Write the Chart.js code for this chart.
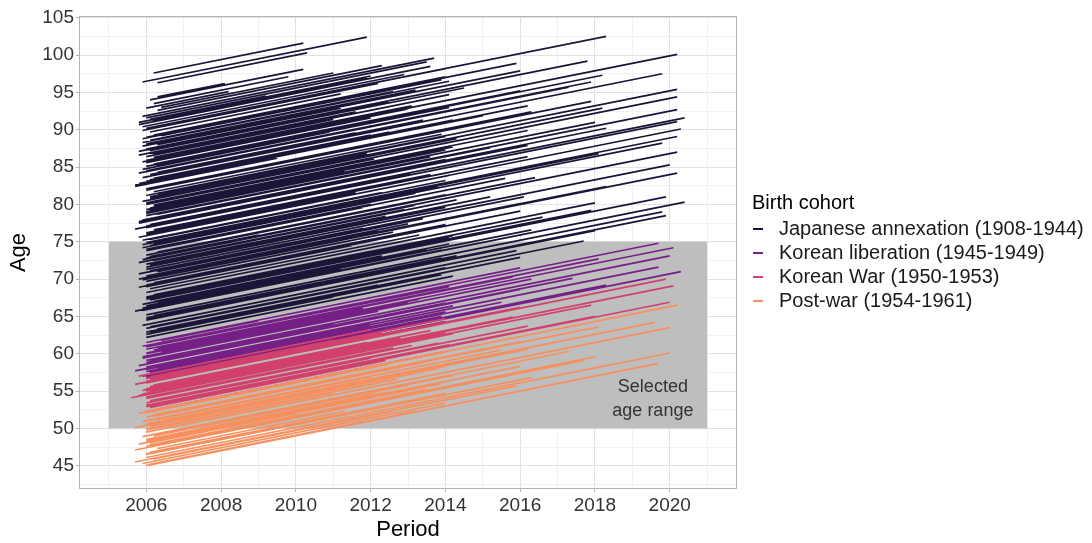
<!DOCTYPE html>
<html>
<head>
<meta charset="utf-8">
<script src="https://cdn.jsdelivr.net/npm/chart.js@4.4.1/dist/chart.umd.min.js"></script>
<style>
  html, body { margin: 0; padding: 0; background: #fff; }
  #wrap { width: 1092px; height: 543px; }
</style>
</head>
<body>
<div id="wrap"><canvas id="myChart"></canvas></div>
<script>
// one row per person: [start period, start age, end period, end age]
var cohorts = ['Japanese annexation (1908-1944)', 'Korean liberation (1945-1949)', 'Korean War (1950-1953)', 'Post-war (1954-1961)'];

var japanese = [
  [2006.2, 97.6, 2010.2, 101.6], [2005.9, 96.4, 2011.9, 102.4], [2006.3, 96.3, 2010.3, 100.3],
  [2006.1, 94.0, 2010.2, 98.1], [2006.3, 94.4, 2008.1, 96.2], [2006.2, 93.5, 2009.8, 97.1],
  [2006.0, 92.9, 2008.2, 95.1], [2006.4, 93.0, 2011.0, 97.6], [2005.9, 91.8, 2010.3, 96.2],
  [2006.3, 92.2, 2013.7, 99.6], [2005.8, 91.0, 2012.0, 97.2], [2005.8, 90.7, 2013.6, 98.5],
  [2006.0, 90.2, 2018.3, 102.5], [2006.2, 90.4, 2014.0, 98.2], [2005.9, 89.9, 2012.2, 96.2],
  [2006.5, 89.6, 2009.6, 92.7], [2006.0, 89.0, 2015.9, 98.9], [2006.1, 88.6, 2012.6, 95.1],
  [2005.9, 88.3, 2014.1, 96.5], [2006.3, 88.0, 2011.2, 92.9], [2006.0, 87.4, 2017.8, 99.2],
  [2005.8, 87.1, 2012.5, 93.8], [2006.2, 86.8, 2014.1, 94.7], [2006.0, 86.4, 2011.0, 91.4],
  [2006.1, 86.0, 2020.2, 100.1], [2005.9, 85.7, 2013.0, 92.8], [2006.2, 85.4, 2016.0, 95.2],
  [2006.0, 85.1, 2018.2, 97.3], [2006.3, 84.8, 2012.0, 90.5], [2006.0, 84.5, 2017.9, 96.4],
  [2005.8, 84.2, 2017.3, 95.7], [2006.2, 83.9, 2014.1, 91.8], [2005.9, 83.6, 2019.8, 97.5],
  [2006.1, 83.3, 2012.5, 89.7], [2005.7, 82.6, 2015.0, 91.9], [2006.0, 82.1, 2016.3, 92.4],
  [2005.7, 82.4, 2009.5, 86.2], [2006.1, 82.0, 2017.9, 93.8], [2006.2, 81.7, 2013.9, 89.4],
  [2006.0, 81.2, 2020.2, 95.4], [2006.3, 80.9, 2011.5, 86.1], [2006.1, 80.6, 2014.3, 88.8],
  [2006.0, 80.2, 2020.2, 94.4], [2006.2, 79.9, 2016.2, 89.9], [2006.1, 79.5, 2012.8, 86.2],
  [2006.0, 79.0, 2018.0, 91.0], [2006.3, 78.7, 2015.2, 87.6], [2006.0, 78.5, 2020.2, 92.7],
  [2006.1, 78.0, 2018.3, 90.2], [2005.8, 77.7, 2011.2, 83.1], [2006.1, 77.3, 2020.4, 91.6],
  [2006.0, 76.9, 2020.2, 91.1], [2005.7, 76.7, 2013.1, 84.1], [2006.2, 76.4, 2016.2, 86.4],
  [2006.0, 75.8, 2020.3, 90.1], [2006.3, 75.5, 2014.0, 83.2], [2005.9, 75.2, 2012.3, 81.6],
  [2006.0, 74.9, 2020.2, 89.1], [2006.1, 74.5, 2019.8, 88.2], [2005.9, 74.6, 2017.9, 86.6],
  [2006.2, 74.1, 2015.6, 83.5], [2006.0, 73.8, 2011.8, 79.6], [2006.3, 73.5, 2013.9, 81.1],
  [2006.0, 73.2, 2016.4, 83.6], [2006.0, 72.8, 2020.2, 87.0], [2006.2, 72.5, 2014.3, 80.6],
  [2005.8, 72.2, 2012.9, 79.3], [2006.1, 71.9, 2015.2, 81.0], [2006.0, 71.3, 2020.0, 85.3],
  [2006.3, 71.0, 2013.4, 78.1], [2005.8, 70.7, 2016.1, 81.0], [2006.1, 70.2, 2018.3, 82.4],
  [2005.9, 69.9, 2020.2, 84.2], [2006.2, 69.5, 2014.0, 77.3], [2006.0, 69.2, 2011.9, 75.1],
  [2005.8, 68.9, 2016.0, 79.1], [2006.4, 68.6, 2015.3, 77.5], [2006.0, 68.2, 2013.0, 75.2],
  [2006.2, 67.9, 2016.6, 78.3], [2006.0, 67.3, 2017.9, 79.2], [2006.1, 67.2, 2019.9, 81.0],
  [2006.3, 66.9, 2014.1, 74.7], [2005.9, 66.6, 2012.1, 72.8], [2006.0, 66.3, 2016.3, 76.6],
  [2006.0, 65.9, 2020.4, 80.3], [2005.7, 65.7, 2013.9, 73.9], [2006.0, 65.2, 2019.8, 79.0],
  [2006.2, 65.0, 2014.3, 73.1], [2006.0, 64.6, 2019.9, 78.5], [2006.0, 64.5, 2018.0, 76.5],
  [2006.3, 64.2, 2010.6, 68.5], [2005.9, 63.8, 2015.9, 73.8], [2006.0, 63.4, 2017.7, 75.1],
  [2006.2, 63.1, 2012.1, 69.0], [2006.1, 62.8, 2013.9, 70.6], [2006.3, 62.5, 2011.5, 67.7],
  [2006.0, 62.2, 2014.2, 70.4], [2006.1, 91.4, 2009.2, 94.5], [2006.4, 89.2, 2013.9, 96.7],
  [2005.9, 87.8, 2016.0, 97.9], [2006.2, 86.1, 2010.5, 90.4], [2006.0, 85.9, 2014.0, 93.9],
  [2006.3, 84.3, 2011.6, 89.6], [2006.0, 83.0, 2016.2, 93.2], [2006.4, 81.5, 2009.9, 85.0],
  [2006.1, 80.8, 2018.2, 92.9], [2006.0, 79.3, 2014.0, 87.3], [2006.2, 78.2, 2012.0, 84.0],
  [2005.8, 77.5, 2016.2, 87.9], [2006.0, 76.2, 2014.1, 84.3], [2006.3, 75.0, 2018.1, 86.8],
  [2005.9, 74.2, 2013.2, 81.5], [2006.1, 73.0, 2009.0, 75.9], [2006.0, 71.6, 2014.0, 79.6],
  [2006.4, 70.5, 2016.0, 80.1], [2006.0, 69.7, 2012.6, 76.3], [2006.2, 68.4, 2018.0, 80.2],
  [2006.0, 67.6, 2014.2, 75.8], [2005.9, 66.1, 2011.2, 71.4], [2006.2, 65.4, 2016.1, 75.3],
  [2006.1, 63.6, 2014.0, 71.5], [2006.0, 62.9, 2016.0, 72.9],
  [2006.3, 92.6, 2012.3, 98.6], [2006.0, 91.6, 2013.5, 99.1], [2006.2, 91.2, 2011.9, 96.9],
  [2005.9, 90.4, 2012.9, 97.4], [2006.1, 89.7, 2011.2, 94.8], [2006.2, 89.3, 2014.0, 97.1],
  [2005.9, 88.8, 2010.8, 93.7], [2006.0, 88.1, 2013.2, 95.3], [2006.3, 87.6, 2012.0, 93.3],
  [2006.1, 87.2, 2014.5, 95.6], [2005.8, 86.6, 2011.6, 92.4], [2006.2, 86.3, 2013.1, 93.2],
  [2006.0, 85.6, 2012.0, 91.6], [2006.3, 85.2, 2014.1, 93.0], [2005.9, 84.7, 2010.9, 89.7],
  [2006.1, 84.0, 2013.4, 91.3], [2006.2, 83.5, 2012.0, 89.3], [2006.0, 83.1, 2014.2, 91.3],
  [2005.8, 82.8, 2011.4, 88.4], [2006.2, 82.3, 2013.0, 89.1], [2006.0, 81.9, 2012.2, 88.1],
  [2006.3, 81.4, 2014.0, 89.1], [2006.1, 81.0, 2011.9, 86.8], [2005.9, 80.4, 2013.0, 87.5],
  [2006.0, 80.0, 2012.1, 86.1], [2006.2, 79.7, 2014.2, 87.7], [2006.1, 79.2, 2011.3, 84.4],
  [2006.0, 78.8, 2013.6, 86.4], [2006.3, 78.3, 2012.3, 84.3], [2005.9, 77.9, 2014.0, 86.0],
  [2006.0, 77.1, 2012.0, 83.1], [2006.2, 76.6, 2013.6, 84.0], [2006.0, 76.0, 2011.6, 81.6],
  [2005.8, 75.6, 2014.1, 83.9], [2006.1, 75.3, 2012.5, 81.7], [2006.2, 74.7, 2013.8, 82.3],
  [2006.0, 74.0, 2012.0, 80.0], [2006.3, 73.6, 2014.0, 81.3], [2006.1, 73.3, 2011.5, 78.7],
  [2005.9, 72.6, 2013.2, 79.9], [2006.0, 72.0, 2012.4, 78.4], [2006.2, 71.5, 2014.3, 79.6],
  [2006.1, 71.1, 2011.8, 76.8], [2006.0, 70.4, 2013.0, 77.4], [2005.8, 70.0, 2012.2, 76.4],
  [2006.2, 69.4, 2014.0, 77.2], [2006.0, 69.0, 2011.5, 74.5], [2006.1, 68.7, 2013.3, 75.9],
  [2006.3, 68.0, 2012.0, 73.7], [2006.0, 67.4, 2014.1, 75.5], [2006.2, 67.0, 2012.3, 73.1],
  [2006.0, 66.4, 2013.5, 73.9], [2005.9, 65.8, 2012.0, 71.9], [2006.2, 65.1, 2013.9, 72.8],
  [2006.0, 64.8, 2011.8, 70.6], [2006.1, 64.0, 2013.0, 70.9], [2006.3, 63.3, 2012.2, 69.2],
  [2006.0, 62.6, 2011.0, 67.6]
];

var liberation = [
  [2006.0, 61.5, 2016.0, 71.5], [2006.2, 61.3, 2019.7, 74.8], [2005.9, 61.0, 2012.5, 67.6],
  [2006.3, 60.8, 2015.8, 70.3], [2006.0, 60.6, 2018.1, 72.7], [2006.4, 60.3, 2013.0, 66.9],
  [2006.0, 60.1, 2020.1, 74.2], [2006.1, 59.8, 2014.0, 67.7], [2005.9, 59.6, 2016.3, 70.0],
  [2006.3, 59.3, 2011.0, 64.0], [2006.0, 59.1, 2020.0, 73.1], [2006.2, 58.9, 2017.4, 70.1],
  [2006.0, 58.6, 2013.6, 66.2], [2005.8, 58.4, 2016.0, 68.6], [2006.0, 58.2, 2014.2, 66.4],
  [2006.0, 57.9, 2019.7, 71.6], [2005.7, 57.7, 2012.0, 64.0], [2006.1, 57.5, 2015.5, 66.9],
  [2006.3, 57.2, 2018.3, 69.2], [2005.9, 57.0, 2013.9, 65.0], [2006.0, 56.7, 2020.3, 71.0],
  [2006.2, 56.5, 2014.0, 64.3], [2006.4, 61.8, 2009.0, 64.4], [2006.1, 59.0, 2010.4, 63.3],
  [2006.1, 61.2, 2012.0, 67.1], [2006.0, 60.9, 2014.1, 69.0], [2006.2, 60.5, 2011.8, 66.1],
  [2006.0, 60.0, 2013.3, 67.3], [2005.9, 59.4, 2012.2, 65.7], [2006.2, 59.0, 2014.0, 66.8],
  [2006.0, 58.8, 2011.6, 64.4], [2006.1, 58.3, 2013.0, 65.2], [2006.3, 58.0, 2012.0, 63.7],
  [2006.0, 57.6, 2014.0, 65.6], [2006.2, 57.3, 2011.4, 62.5], [2006.0, 56.9, 2012.6, 63.5]
];

var koreanWar = [
  [2005.8, 57.0, 2012.0, 63.2], [2006.0, 56.7, 2014.0, 64.7], [2006.2, 56.4, 2016.0, 66.2],
  [2006.0, 56.1, 2019.9, 70.0], [2005.7, 55.9, 2011.5, 61.7], [2006.1, 55.6, 2013.6, 63.1],
  [2006.3, 55.4, 2015.8, 64.9], [2005.9, 55.1, 2010.2, 59.4], [2006.0, 55.0, 2020.1, 69.1],
  [2006.2, 54.7, 2014.2, 62.7], [2005.8, 54.4, 2017.9, 66.5], [2006.0, 54.2, 2012.6, 60.8],
  [2006.4, 53.9, 2016.2, 63.7], [2006.1, 53.7, 2013.8, 61.4], [2006.0, 53.4, 2009.0, 56.4],
  [2006.2, 53.2, 2018.0, 65.0], [2006.0, 52.9, 2020.0, 66.9], [2006.3, 52.6, 2014.0, 60.3],
  [2005.6, 54.1, 2008.0, 56.5], [2006.1, 56.9, 2011.0, 61.8],
  [2006.1, 56.6, 2012.3, 62.8], [2006.0, 56.3, 2013.0, 63.3], [2006.2, 55.8, 2011.9, 61.5],
  [2006.0, 55.3, 2012.8, 62.1], [2006.1, 54.9, 2014.0, 62.8], [2005.9, 54.6, 2011.7, 60.4],
  [2006.0, 54.0, 2013.1, 61.1], [2006.2, 53.6, 2012.0, 59.4], [2006.0, 53.1, 2014.1, 61.2],
  [2006.1, 52.8, 2012.4, 59.1]
];

var postWar = [
  [2006.0, 52.3, 2020.2, 66.5], [2005.8, 52.0, 2014.0, 60.2], [2006.2, 51.8, 2016.0, 61.6],
  [2006.0, 51.5, 2018.1, 63.6], [2006.3, 51.2, 2012.0, 56.9], [2005.9, 50.9, 2015.5, 60.5],
  [2006.0, 50.6, 2019.6, 64.2], [2006.1, 50.3, 2013.8, 58.0], [2005.7, 50.1, 2016.2, 60.6],
  [2006.0, 49.8, 2011.0, 54.8], [2006.0, 49.5, 2020.0, 63.5], [2006.3, 49.2, 2014.2, 57.1],
  [2005.9, 48.9, 2017.3, 60.3], [2006.2, 48.6, 2012.4, 54.8], [2006.0, 48.3, 2016.0, 58.3],
  [2005.8, 47.9, 2013.9, 56.0], [2006.0, 47.6, 2018.0, 59.6], [2006.3, 47.3, 2011.3, 52.3],
  [2005.7, 47.1, 2017.7, 59.1], [2006.1, 46.8, 2014.0, 54.7], [2006.0, 46.5, 2016.3, 56.8],
  [2006.0, 46.1, 2020.0, 60.1], [2006.4, 45.8, 2012.2, 51.6], [2005.7, 45.5, 2015.9, 55.7],
  [2006.0, 45.0, 2019.7, 58.7], [2005.9, 45.3, 2014.0, 53.4], [2006.2, 46.3, 2018.3, 58.4],
  [2006.1, 48.1, 2010.0, 52.0],
  [2006.0, 52.1, 2012.5, 58.6], [2006.2, 51.6, 2013.4, 58.8], [2006.0, 51.0, 2012.0, 57.0],
  [2006.1, 50.4, 2014.0, 58.3], [2006.0, 49.9, 2012.7, 56.6], [2006.2, 49.0, 2013.0, 55.8],
  [2006.0, 48.5, 2012.1, 54.6], [2006.1, 47.8, 2013.5, 55.2], [2006.3, 47.0, 2012.3, 53.0],
  [2006.0, 46.6, 2013.0, 53.6], [2006.2, 45.9, 2012.6, 52.3], [2006.1, 45.2, 2013.2, 52.3]
];

var periodTicks = [2005, 2006, 2007, 2008, 2009, 2010, 2011, 2012, 2013, 2014, 2015, 2016, 2017, 2018, 2019, 2020, 2021];
var periodLabels = [2006, 2008, 2010, 2012, 2014, 2016, 2018, 2020];
var ageTicks = [42.5, 45, 47.5, 50, 52.5, 55, 57.5, 60, 62.5, 65, 67.5, 70, 72.5, 75, 77.5, 80, 82.5, 85, 87.5, 90, 92.5, 95, 97.5, 100, 102.5, 105];
var ageLabels = [45, 50, 55, 60, 65, 70, 75, 80, 85, 90, 95, 100, 105];

// selected age range box
var boxPeriod = [2005, 2021];
var boxAge = [50, 75];

var colors = ['#1d1538', '#761f86', '#d1416c', '#f7905f'];
var FONT = '"Liberation Sans", Arial, sans-serif';

function toPoints(segs) {
    var pts = [];
    segs.forEach(function (s) {
        pts.push({ x: s[0], y: s[1] }, { x: s[2], y: s[3] }, { x: s[2], y: null });
    });
    return pts;
}

var bgPlugin = {
    id: 'bg',
    beforeDatasetsDraw: function (chart) {
        var c = chart.ctx, xs = chart.scales.x, ys = chart.scales.y;
        var x0 = xs.getPixelForValue(boxPeriod[0]), x1 = xs.getPixelForValue(boxPeriod[1]);
        var y0 = ys.getPixelForValue(boxAge[1]), y1 = ys.getPixelForValue(boxAge[0]);
        c.save();
        c.fillStyle = '#bebebe';
        c.fillRect(x0, y0, x1 - x0, y1 - y0);
        c.restore();
    },
    afterDatasetsDraw: function (chart) {
        var c = chart.ctx, xs = chart.scales.x, ys = chart.scales.y, a = chart.chartArea;
        c.save();
        c.fillStyle = '#333';
        c.font = '18px ' + FONT;
        c.textAlign = 'center';
        c.textBaseline = 'middle';
        c.fillText('Selected', xs.getPixelForValue(2019.55), ys.getPixelForValue(55.6));
        c.fillText('age range', xs.getPixelForValue(2019.55), ys.getPixelForValue(52.3));
        // panel border
        c.strokeStyle = '#b3b3b3';
        c.lineWidth = 1;
        c.strokeRect(a.left + 0.5, a.top + 0.5, a.right - a.left - 1, a.bottom - a.top - 1);
        // legend
        c.textAlign = 'left';
        c.fillStyle = '#000';
        c.font = '20px ' + FONT;
        c.fillText('Birth cohort', 752, 203);
        for (var i = 0; i < cohorts.length; i++) {
            var y = 229 + i * 24;
            c.strokeStyle = colors[i];
            c.lineWidth = 2;
            c.beginPath();
            c.moveTo(753, y);
            c.lineTo(763, y);
            c.stroke();
            c.fillStyle = '#1a1a1a';
            c.fillText(cohorts[i], 779, y);
        }
        c.restore();
    }
};

var groups = [japanese, liberation, koreanWar, postWar];

var ctx = document.getElementById('myChart').getContext('2d');
var myChart = new Chart(ctx, {
    type: 'scatter',
    data: {
        datasets: groups.map(function (g, i) {
            return {
                label: cohorts[i],
                data: toPoints(g),
                showLine: true,
                spanGaps: false,
                borderColor: colors[i],
                backgroundColor: colors[i],
                borderWidth: 1.7,
                pointRadius: 0,
                pointHoverRadius: 0
            };
        }).reverse()
    },
    options: {
        responsive: true,
        maintainAspectRatio: false,
        animation: false,
        layout: { padding: { top: 16, right: 355, left: 0, bottom: 0 } },
        plugins: {
            legend: { display: false },
            tooltip: { enabled: false }
        },
        scales: {
            x: {
                type: 'linear',
                min: 2004.2,
                max: 2021.8,
                afterBuildTicks: function (s) { s.ticks = periodTicks.map(function (v) { return { value: v }; }); },
                afterFit: function (s) { s.height = 54; },
                border: { display: false },
                grid: {
                    color: function (c) { return periodLabels.indexOf(c.tick.value) >= 0 ? '#e2e2e2' : '#f1f1f1'; },
                    tickColor: function (c) { return periodLabels.indexOf(c.tick.value) >= 0 ? '#b3b3b3' : 'rgba(0,0,0,0)'; },
                    tickLength: 3
                },
                ticks: {
                    autoSkip: false,
                    maxRotation: 0,
                    padding: 2,
                    color: '#333',
                    font: { family: FONT, size: 19 },
                    callback: function (v) { return periodLabels.indexOf(v) >= 0 ? String(v) : ''; }
                },
                title: {
                    display: true,
                    text: 'Period',
                    color: '#000',
                    font: { family: FONT, size: 22 },
                    padding: { top: 0, bottom: 0 }
                }
            },
            y: {
                type: 'linear',
                min: 41.88,
                max: 105.24,
                afterBuildTicks: function (s) { s.ticks = ageTicks.map(function (v) { return { value: v }; }); },
                afterFit: function (s) { s.width = 79; },
                border: { display: false },
                grid: {
                    color: function (c) { return ageLabels.indexOf(c.tick.value) >= 0 ? '#e2e2e2' : '#f1f1f1'; },
                    tickColor: function (c) { return ageLabels.indexOf(c.tick.value) >= 0 ? '#b3b3b3' : 'rgba(0,0,0,0)'; },
                    tickLength: 3
                },
                ticks: {
                    autoSkip: false,
                    padding: 2,
                    color: '#333',
                    font: { family: FONT, size: 19 },
                    callback: function (v) { return ageLabels.indexOf(v) >= 0 ? String(v) : ''; }
                },
                title: {
                    display: true,
                    text: 'Age',
                    color: '#000',
                    font: { family: FONT, size: 22 },
                    padding: { top: 6, bottom: 4 }
                }
            }
        }
    },
    plugins: [bgPlugin]
});
</script>
</body>
</html>
